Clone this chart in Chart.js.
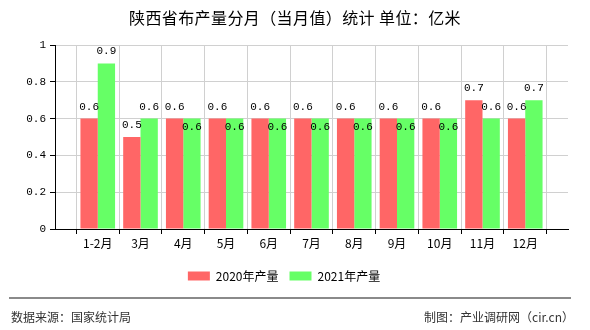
<!DOCTYPE html>
<html>
<head>
<meta charset="utf-8">
<script src="https://cdn.jsdelivr.net/npm/chart.js@4.4.1/dist/chart.umd.min.js"></script>
<style>
  html, body { margin: 0; padding: 0; background: #fff; }
  #wrap { position: relative; width: 590px; height: 330px; overflow: hidden; font-family: "Noto Sans CJK SC", "Noto Sans", sans-serif; }
  #c { position: absolute; left: 0; top: 0; }
  #title { position: absolute; left: 0; width: 590px; top: 7px; text-align: center; font-size: 16px; line-height: 20px; color: #000; letter-spacing: 0.4px; }
  #sep { position: absolute; left: 9px; width: 562px; top: 297px; height: 0; border-top: 2px solid #8a8a8a; }
  #srcL { position: absolute; left: 11px; top: 308px; font-size: 12px; line-height: 18px; color: #333; }
  #srcR { position: absolute; right: 16px; top: 308px; font-size: 12px; line-height: 18px; color: #333; }
</style>
</head>
<body>
<div id="wrap">
  <canvas id="c" width="590" height="330"></canvas>
  <div id="title">陕西省布产量分月（当月值）统计 单位：亿米</div>
  <div id="sep"></div>
  <div id="srcL">数据来源：国家统计局</div>
  <div id="srcR">制图：产业调研网（cir.cn）</div>
</div>
<script>
const categories = ['1-2月', '3月', '4月', '5月', '6月', '7月', '8月', '9月', '10月', '11月', '12月'];
const series2020 = [0.6, 0.5, 0.6, 0.6, 0.6, 0.6, 0.6, 0.6, 0.6, 0.7, 0.6];
const series2021 = [0.9, 0.6, 0.6, 0.6, 0.6, 0.6, 0.6, 0.6, 0.6, 0.6, 0.7];
const seriesNames = ['2020年产量', '2021年产量'];
const yTicks = [0, 0.2, 0.4, 0.6, 0.8, 1];

// padded labels so the axis has a half-slot margin at both ends
const labels = [''].concat(categories, ['']);
const pad = arr => [null].concat(arr, [null]);

const valueLabels = {
  id: 'valueLabels',
  afterDatasetsDraw(chart) {
    const ctx = chart.ctx;
    ctx.save();
    ctx.font = '11px "Liberation Mono", "DejaVu Sans Mono", monospace';
    ctx.fillStyle = '#000';
    ctx.textAlign = 'center';
    ctx.textBaseline = 'alphabetic';
    chart.data.datasets.forEach((ds, di) => {
      const meta = chart.getDatasetMeta(di);
      meta.data.forEach((bar, i) => {
        const v = ds.data[i];
        if (v === null || v === undefined) return;
        let inside = false;
        if (di === 1) {
          const other = chart.data.datasets[0].data[i];
          if (other === v) inside = true;
        }
        const y = inside ? bar.y + 11 : bar.y - 9;
        ctx.fillText(String(v), bar.x, y);
      });
    });
    ctx.restore();
  }
};

new Chart(document.getElementById('c'), {
  type: 'bar',
  data: {
    labels: labels,
    datasets: [
      { label: seriesNames[0], data: pad(series2020), backgroundColor: '#ff6666', borderWidth: 0 },
      { label: seriesNames[1], data: pad(series2021), backgroundColor: '#66ff66', borderWidth: 0 }
    ]
  },
  options: {
    responsive: false,
    animation: false,
    devicePixelRatio: 1,
    layout: { padding: { left: 0, right: 22, top: 45, bottom: 38 } },
    datasets: { bar: { categoryPercentage: 0.81, barPercentage: 1.0 } },
    plugins: {
      title: { display: false },
      tooltip: { enabled: false },
      legend: {
        display: true,
        position: 'bottom',
        labels: {
          boxWidth: 22,
          boxHeight: 9,
          padding: 11,
          color: '#000',
          font: { family: '"Noto Sans CJK SC", "Noto Sans", sans-serif', size: 12 }
        }
      }
    },
    scales: {
      x: {
        offset: false,
        grid: { color: '#d0d0d0', tickColor: '#000', tickLength: 5, drawOnChartArea: true },
        border: { color: '#000', width: 1 },
        ticks: {
          autoSkip: false,
          maxRotation: 0,
          color: '#000',
          padding: 2,
          font: { family: '"Noto Sans CJK SC", "Noto Sans", sans-serif', size: 12 }
        },
        afterFit(scale) { scale.height = 30; }
      },
      y: {
        min: 0,
        max: 1,
        afterBuildTicks(scale) { scale.ticks = yTicks.map(v => ({ value: v })); },
        grid: { color: '#d0d0d0', tickColor: '#000', tickLength: 5 },
        border: { color: '#000', width: 1 },
        ticks: {
          color: '#000',
          padding: 4,
          font: { family: '"Liberation Mono", "DejaVu Sans Mono", monospace', size: 11 },
          callback: v => String(Math.round(v * 10) / 10)
        },
        afterFit(scale) { scale.width = 55; }
      }
    }
  },
  plugins: [valueLabels]
});
</script>
</body>
</html>
